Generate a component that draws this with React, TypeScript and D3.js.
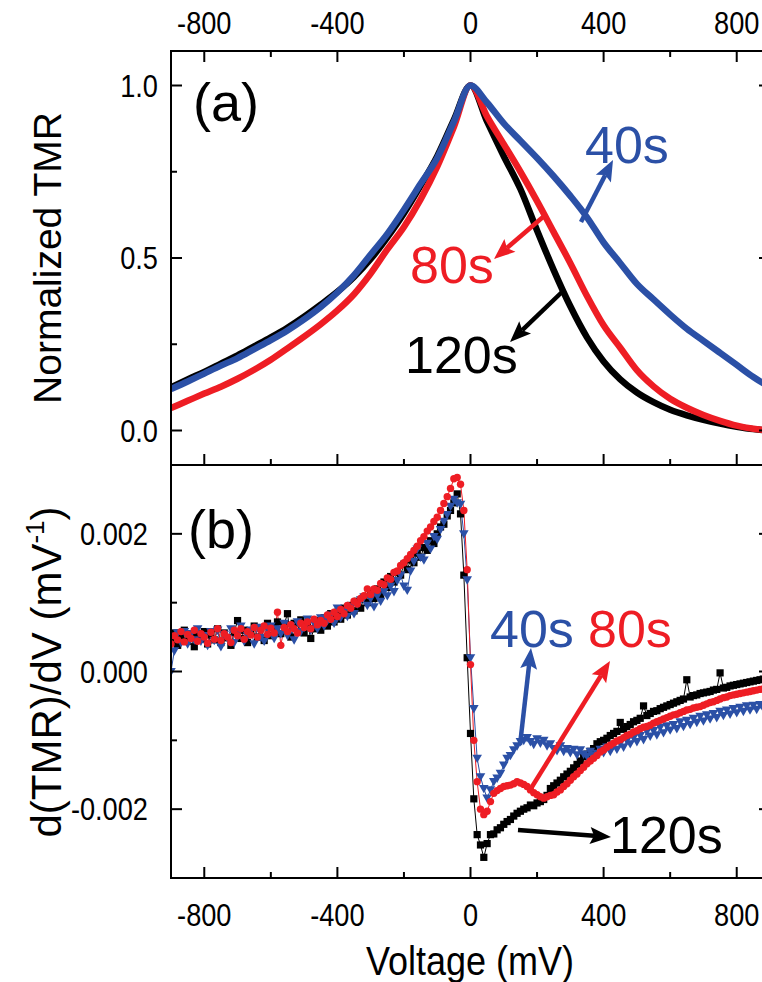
import React from 'react';
import * as d3 from 'd3';

// ---------- DATA ----------
// Panel (a): normalized TMR vs bias voltage (mV)
const voltsA = [-900,-850,-800,-750,-700,-650,-600,-550,-500,-450,-400,-350,-300,-250,-200,-150,-100,-50,0,50,100,150,200,250,300,350,400,450,500,550,600,650,700,750,800,850,900];
const tmr120 = [0.125,0.148,0.170,0.194,0.218,0.244,0.270,0.298,0.330,0.365,0.402,0.445,0.497,0.560,0.630,0.710,0.795,0.900,1.0,0.895,0.795,0.700,0.580,0.465,0.360,0.270,0.200,0.148,0.110,0.082,0.060,0.044,0.031,0.020,0.011,0.004,0.0];
const tmr80 = [0.065,0.086,0.107,0.127,0.150,0.176,0.205,0.238,0.272,0.308,0.348,0.395,0.455,0.525,0.590,0.670,0.765,0.880,1.0,0.910,0.830,0.750,0.665,0.575,0.485,0.390,0.305,0.240,0.175,0.128,0.092,0.066,0.045,0.028,0.014,0.005,0.0];
const tmr40 = [0.120,0.142,0.165,0.188,0.210,0.236,0.262,0.290,0.322,0.358,0.400,0.450,0.510,0.570,0.640,0.715,0.790,0.895,1.0,0.950,0.890,0.840,0.790,0.737,0.680,0.618,0.545,0.485,0.425,0.380,0.336,0.295,0.260,0.225,0.190,0.155,0.125];

// Panel (b): d(TMR)/dV in units of 1e-3 mV^-1, bias sweep -900..900 mV in 10 mV steps
const V_START = -900;
const V_STEP = 10;
const dTmr120_milli = [
  0.42,0.56,0.38,0.52,0.60,0.44,0.50,0.36,0.55,0.47,
  0.58,0.40,0.53,0.46,0.62,0.42,0.56,0.49,0.38,0.57,
  0.74,0.48,0.60,0.42,0.58,0.66,0.50,0.63,0.45,0.70,
  0.52,0.64,0.72,0.55,0.68,0.84,0.50,0.70,0.58,0.75,
  0.56,0.70,0.48,0.62,0.74,0.60,0.78,0.66,0.84,0.72,
  0.86,0.76,0.92,0.82,0.96,0.88,1.02,0.92,1.08,1.00,
  1.14,1.06,1.20,1.12,1.30,1.22,1.38,1.30,1.44,1.40,
  1.56,1.48,1.62,1.58,1.72,1.66,1.80,1.76,1.90,1.86,
  2.00,2.10,2.14,2.26,2.34,2.45,2.58,2.29,1.40,0.20,
  -0.90,-1.85,-2.37,-2.52,-2.70,-2.50,-2.37,-2.36,-2.30,-2.27,
  -2.22,-2.18,-2.15,-2.10,-2.06,-2.03,-2.00,-1.98,-1.94,-1.95,
  -1.91,-1.89,-1.86,-1.80,-1.70,-1.66,-1.62,-1.58,-1.53,-1.49,
  -1.45,-1.40,-1.35,-1.30,-1.24,-1.20,-1.16,-1.12,-1.05,-1.02,
  -1.00,-0.97,-0.93,-0.90,-0.87,-0.74,-0.84,-0.80,-0.77,-0.73,
  -0.71,-0.68,-0.50,-0.64,-0.61,-0.58,-0.57,-0.54,-0.52,-0.50,
  -0.48,-0.46,-0.44,-0.42,-0.40,-0.12,-0.37,-0.35,-0.34,-0.32,
  -0.31,-0.30,-0.29,-0.27,-0.26,-0.02,-0.24,-0.23,-0.21,-0.20,
  -0.19,-0.18,-0.17,-0.16,-0.15,-0.14,-0.13,-0.12,-0.11,-0.10,
  -0.10
];
const dTmr80_milli = [
  0.40,0.52,0.46,0.58,0.43,0.54,0.48,0.60,0.44,0.55,
  0.50,0.41,0.57,0.47,0.62,0.45,0.55,0.50,0.42,0.60,
  0.52,0.62,0.47,0.58,0.53,0.64,0.50,0.60,0.66,0.54,
  0.63,0.56,0.86,0.38,0.64,0.58,0.68,0.62,0.56,0.70,
  0.64,0.72,0.62,0.76,0.68,0.74,0.70,0.82,0.76,0.86,
  0.80,0.90,0.84,0.96,0.92,1.02,0.98,1.06,1.10,1.20,
  1.12,1.20,1.18,1.28,1.26,1.36,1.34,1.44,1.46,1.54,
  1.58,1.64,1.70,1.76,1.82,1.90,1.96,2.04,2.10,2.18,
  2.24,2.34,2.44,2.54,2.66,2.80,2.82,2.72,2.34,1.48,
  0.10,-1.00,-1.60,-2.00,-2.08,-2.03,-1.89,-1.77,-1.73,-1.70,
  -1.67,-1.66,-1.65,-1.63,-1.60,-1.62,-1.64,-1.67,-1.72,-1.76,
  -1.79,-1.82,-1.84,-1.82,-1.80,-1.79,-1.75,-1.72,-1.67,-1.63,
  -1.58,-1.53,-1.49,-1.44,-1.39,-1.34,-1.30,-1.26,-1.22,-1.17,
  -1.14,-1.10,-1.07,-1.04,-1.01,-0.99,-0.96,-0.93,-0.91,-0.88,
  -0.86,-0.83,-0.81,-0.80,-0.78,-0.75,-0.73,-0.71,-0.69,-0.67,
  -0.65,-0.63,-0.62,-0.60,-0.58,-0.56,-0.55,-0.53,-0.52,-0.51,
  -0.49,-0.47,-0.45,-0.44,-0.42,-0.40,-0.38,-0.37,-0.35,-0.34,
  -0.33,-0.32,-0.31,-0.30,-0.29,-0.28,-0.27,-0.26,-0.25,-0.25,
  -0.24
];
const dTmr40_milli = [
  0.00,0.30,0.56,0.42,0.58,0.40,0.55,0.46,0.62,0.44,
  0.52,0.38,0.58,0.45,0.60,0.36,0.54,0.48,0.62,0.42,
  0.56,0.66,0.44,0.52,0.60,0.40,0.64,0.50,0.44,0.62,
  0.66,0.48,0.62,0.55,0.70,0.52,0.66,0.46,0.72,0.58,
  0.64,0.76,0.60,0.70,0.62,0.78,0.66,0.74,0.82,0.70,
  0.92,0.78,0.88,0.80,0.94,0.84,0.98,1.04,1.08,0.96,
  1.06,0.94,1.10,1.02,1.16,1.10,1.24,1.16,1.32,1.40,
  1.24,1.18,1.46,1.60,1.78,1.66,1.62,1.86,1.78,1.96,
  1.92,2.06,2.18,2.28,2.40,2.50,2.45,2.43,2.00,1.33,
  0.20,-0.54,-1.26,-1.53,-1.70,-1.84,-1.72,-1.60,-1.55,-1.48,
  -1.36,-1.26,-1.22,-1.14,-1.08,-1.02,-1.00,-0.96,-1.02,-1.06,
  -0.98,-1.04,-1.00,-1.08,-1.05,-1.12,-1.15,-1.08,-1.16,-1.12,
  -1.18,-1.13,-1.21,-1.14,-1.20,-1.23,-1.16,-1.22,-1.19,-1.13,
  -1.18,-1.10,-1.16,-1.07,-1.13,-1.04,-1.10,-1.00,-1.05,-0.96,
  -1.02,-0.93,-0.99,-0.87,-0.94,-0.86,-0.92,-0.81,-0.89,-0.79,
  -0.85,-0.77,-0.83,-0.73,-0.80,-0.71,-0.77,-0.68,-0.74,-0.65,
  -0.72,-0.63,-0.69,-0.61,-0.67,-0.58,-0.64,-0.56,-0.62,-0.54,
  -0.60,-0.52,-0.58,-0.50,-0.56,-0.49,-0.55,-0.48,-0.53,-0.47,
  -0.50
];

const xTickMajor = [-800, -400, 0, 400, 800];
const xTickMinor = [-600, -200, 200, 600];
const xTickLabels = ['-800', '-400', '0', '400', '800'];
const aTickMajor = [0, 0.5, 1.0];
const aTickLabels = ['0.0', '0.5', '1.0'];
const aTickMinor = [0.25, 0.75];
const bTickMajor = [-0.002, 0, 0.002];
const bTickLabels = ['-0.002', '0.000', '0.002'];
const bTickMinor = [-0.001, 0.001];

// ---------- STYLE ----------
const BLACK = '#000000';
const RED = '#ee1d24';
const BLUE = '#2b50a6';
const FONT = "'Liberation Sans', Arial, sans-serif";

const PL = 171, PR = 770;
const A_TOP = 51, A_BOT = 465, B_TOP = 465, B_BOT = 878;

const x = d3.scaleLinear().domain([-900, 900]).range([PL, PR]);
const yA = d3.scaleLinear().domain([-0.1, 1.1]).range([A_BOT, A_TOP]);
const yB = d3.scaleLinear().domain([-0.003, 0.003]).range([B_BOT, B_TOP]);

const voltsB = dTmr120_milli.map((_, i) => V_START + i * V_STEP);
const toSeries = (arr: number[]) => arr.map((v, i) => ({ v: voltsB[i], d: v / 1000 }));
const s120 = toSeries(dTmr120_milli);
const s80 = toSeries(dTmr80_milli);
const s40 = toSeries(dTmr40_milli);

function Arrow({ x1, y1, x2, y2, color }: { x1: number; y1: number; x2: number; y2: number; color: string }) {
  const dx = x2 - x1, dy = y2 - y1;
  const len = Math.hypot(dx, dy);
  const ux = dx / len, uy = dy / len;
  const headL = 21, headW = 8.5;
  const bx = x2 - ux * headL, by = y2 - uy * headL;
  const px = -uy, py = ux;
  const pts = `${x2},${y2} ${bx + px * headW},${by + py * headW} ${bx + ux * 4},${by + uy * 4} ${bx - px * headW},${by - py * headW}`;
  return (
    <g>
      <line x1={x1} y1={y1} x2={bx + ux * 4} y2={by + uy * 4} stroke={color} strokeWidth={4.5} />
      <polygon points={pts} fill={color} />
    </g>
  );
}

function NarrowText({ x0, y0, children, anchor = 'middle', size = 32, sx = 0.85 }: any) {
  return (
    <text transform={`translate(${x0},${y0}) scale(${sx},1)`} textAnchor={anchor} fontSize={size} fontFamily={FONT} fill="#000">
      {children}
    </text>
  );
}

export default function App() {
  const lineA = (vals: number[]) =>
    d3.line<number>().x((_, i) => x(voltsA[i])).y((d) => yA(d)).curve(d3.curveMonotoneX)(vals) || '';
  const lineB = d3.line<{ v: number; d: number }>().x((p) => x(p.v)).y((p) => yB(p.d));

  const square = (p: { v: number; d: number }, i: number) => (
    <rect key={i} x={x(p.v) - 3.6} y={yB(p.d) - 3.6} width={7.2} height={7.2} fill={BLACK} />
  );
  const circle = (p: { v: number; d: number }, i: number) => (
    <circle key={i} cx={x(p.v)} cy={yB(p.d)} r={3.7} fill={RED} />
  );
  const tri = (p: { v: number; d: number }, i: number) => {
    const cx = x(p.v), cy = yB(p.d);
    return <polygon key={i} points={`${cx - 4.8},${cy - 3.6} ${cx + 4.8},${cy - 3.6} ${cx},${cy + 4.8}`} fill={BLUE} />;
  };

  const frame = (top: number, bot: number) => (
    <rect x={PL} y={top} width={PR - PL} height={bot - top} fill="none" stroke="#000" strokeWidth={2} />
  );

  const MAJ = 11, MIN = 6;

  return (
    <svg width={762} height={982} style={{ position: 'absolute', left: 0, top: 0, background: '#fff' }}>
      <defs>
        <clipPath id="clipA"><rect x={PL} y={A_TOP} width={PR - PL} height={A_BOT - A_TOP} /></clipPath>
        <clipPath id="clipB"><rect x={PL} y={B_TOP} width={PR - PL} height={B_BOT - B_TOP} /></clipPath>
      </defs>
      <rect x={0} y={0} width={762} height={982} fill="#fff" />

      {/* Panel a curves */}
      <g clipPath="url(#clipA)" fill="none" strokeWidth={6.5} strokeLinejoin="miter">
        <path d={lineA(tmr120)} stroke={BLACK} />
        <path d={lineA(tmr80)} stroke={RED} />
        <path d={lineA(tmr40)} stroke={BLUE} />
      </g>

      {/* Panel b scatter */}
      <g clipPath="url(#clipB)">
        <path d={lineB(s120) || ''} fill="none" stroke={BLACK} strokeWidth={1} />
        <path d={lineB(s40) || ''} fill="none" stroke={BLUE} strokeWidth={1} />
        <path d={lineB(s80) || ''} fill="none" stroke={RED} strokeWidth={1} />
        {s120.map(square)}
        {s40.map(tri)}
        {s80.map(circle)}
      </g>

      {/* Frames */}
      {frame(A_TOP, A_BOT)}
      {frame(B_TOP, B_BOT)}

      {/* Ticks (inward) */}
      <g stroke="#000" strokeWidth={2}>
        {xTickMajor.map((t) => (
          <g key={'xm' + t}>
            <line x1={x(t)} x2={x(t)} y1={A_TOP} y2={A_TOP + MAJ} />
            <line x1={x(t)} x2={x(t)} y1={A_BOT} y2={A_BOT - MAJ} />
            <line x1={x(t)} x2={x(t)} y1={B_BOT} y2={B_BOT - MAJ} />
          </g>
        ))}
        {xTickMinor.map((t) => (
          <g key={'xn' + t}>
            <line x1={x(t)} x2={x(t)} y1={A_TOP} y2={A_TOP + MIN} />
            <line x1={x(t)} x2={x(t)} y1={A_BOT} y2={A_BOT - MIN} />
            <line x1={x(t)} x2={x(t)} y1={B_BOT} y2={B_BOT - MIN} />
          </g>
        ))}
        {aTickMajor.map((t) => (
          <g key={'am' + t}>
            <line x1={PL} x2={PL + MAJ} y1={yA(t)} y2={yA(t)} />
            <line x1={PR} x2={PR - MAJ} y1={yA(t)} y2={yA(t)} />
          </g>
        ))}
        {aTickMinor.map((t) => (
          <g key={'an' + t}>
            <line x1={PL} x2={PL + MIN} y1={yA(t)} y2={yA(t)} />
            <line x1={PR} x2={PR - MIN} y1={yA(t)} y2={yA(t)} />
          </g>
        ))}
        {bTickMajor.map((t) => (
          <g key={'bm' + t}>
            <line x1={PL} x2={PL + MAJ} y1={yB(t)} y2={yB(t)} />
            <line x1={PR} x2={PR - MAJ} y1={yB(t)} y2={yB(t)} />
          </g>
        ))}
        {bTickMinor.map((t) => (
          <g key={'bn' + t}>
            <line x1={PL} x2={PL + MIN} y1={yB(t)} y2={yB(t)} />
            <line x1={PR} x2={PR - MIN} y1={yB(t)} y2={yB(t)} />
          </g>
        ))}
      </g>

      {/* Tick labels */}
      {xTickMajor.map((t, i) => (
        <NarrowText key={'tl' + t} x0={x(t)} y0={34}>{xTickLabels[i]}</NarrowText>
      ))}
      {xTickMajor.map((t, i) => (
        <NarrowText key={'bl' + t} x0={x(t)} y0={926}>{xTickLabels[i]}</NarrowText>
      ))}
      {aTickMajor.map((t, i) => (
        <NarrowText key={'al' + t} x0={158} y0={yA(t) + 11} anchor="end">{aTickLabels[i]}</NarrowText>
      ))}
      {bTickMajor.map((t, i) => (
        <NarrowText key={'bl2' + t} x0={148} y0={yB(t) + 11} anchor="end">{bTickLabels[i]}</NarrowText>
      ))}

      {/* Axis titles */}
      <NarrowText x0={470} y0={975} size={40} sx={0.9}>Voltage (mV)</NarrowText>
      <text transform="translate(61,258) rotate(-90)" textAnchor="middle" fontSize={39} fontFamily={FONT}>Normalized TMR</text>
      <text transform="translate(61,672) rotate(-90)" textAnchor="middle" fontSize={42} fontFamily={FONT}>
        <tspan>d(TMR)/dV (mV</tspan>
        <tspan fontSize={26} dy={-17}>-1</tspan>
        <tspan dy={17}>)</tspan>
      </text>

      {/* Panel labels */}
      <text x={193} y={121} fontSize={54} fontFamily={FONT}>(a)</text>
      <text x={188} y={548} fontSize={54} fontFamily={FONT}>(b)</text>

      {/* Annotations panel a */}
      <text x={585} y={163} fontSize={52} fontFamily={FONT} fill={BLUE}>40s</text>
      <Arrow x1={581} y1={222} x2={613} y2={160} color={BLUE} />
      <text x={410} y={283} fontSize={52} fontFamily={FONT} fill={RED}>80s</text>
      <Arrow x1={543} y1={217} x2={494} y2={259} color={RED} />
      <text x={405} y={373} fontSize={52} fontFamily={FONT} fill={BLACK}>120s</text>
      <Arrow x1={562} y1={292} x2={510} y2={342} color={BLACK} />

      {/* Annotations panel b */}
      <text x={490} y={647} fontSize={52} fontFamily={FONT} fill={BLUE}>40s</text>
      <Arrow x1={520} y1={745} x2={531} y2={648} color={BLUE} />
      <text x={588} y={647} fontSize={52} fontFamily={FONT} fill={RED}>80s</text>
      <Arrow x1={530} y1={790} x2={610} y2={661} color={RED} />
      <text x={610} y={853} fontSize={52} fontFamily={FONT} fill={BLACK}>120s</text>
      <Arrow x1={518} y1={830} x2={611} y2={837} color={BLACK} />
    </svg>
  );
}
